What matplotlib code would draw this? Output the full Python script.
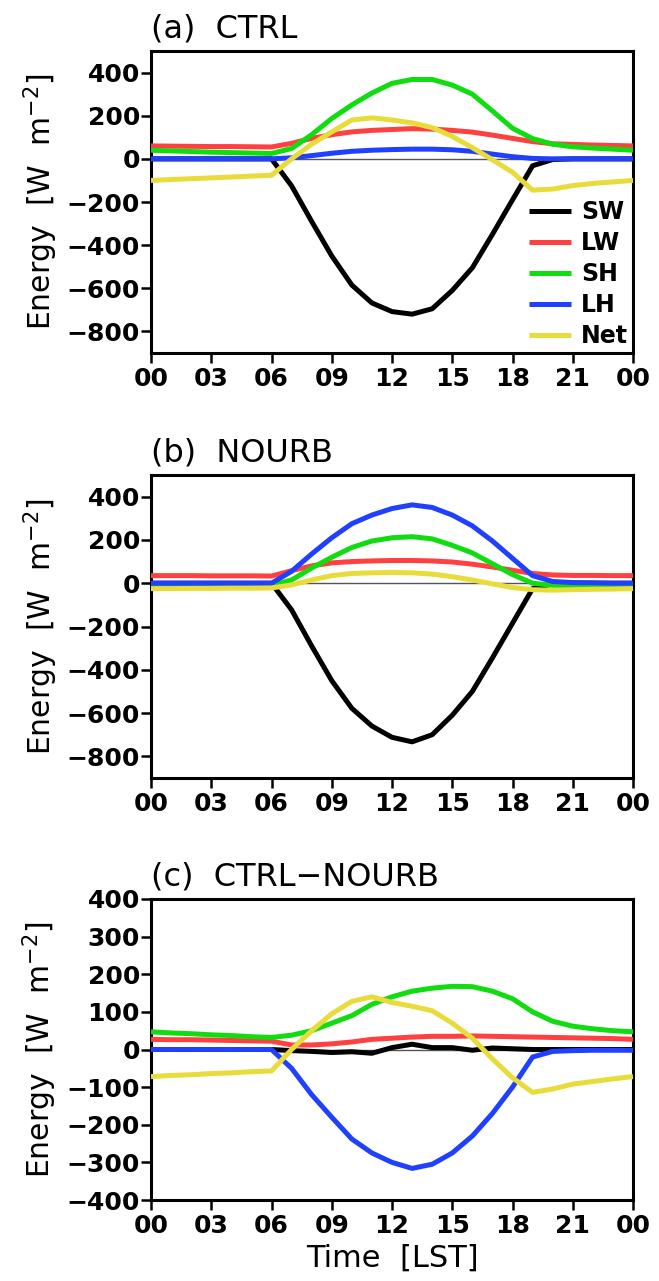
import matplotlib
matplotlib.use("Agg")
import matplotlib.pyplot as plt
import numpy as np

hours = list(range(25))
xtick_pos = [0, 3, 6, 9, 12, 15, 18, 21, 24]
xtick_labels = ["00", "03", "06", "09", "12", "15", "18", "21", "00"]
series_names = ["SW", "LW", "SH", "LH", "Net"]
colors = ["#000000", "#ff4040", "#10dd10", "#2040ff", "#e8dc3a"]

# (a) CTRL
a_SW = [0, 0, 0, 0, 0, 0, 0, -125, -290, -450, -585, -668, -708, -720, -695, -610, -505, -350, -190, -32, -3, 0, 0, 0, 0]
a_LW = [60, 59, 58, 57, 57, 56, 55, 72, 95, 112, 125, 132, 136, 140, 138, 132, 124, 110, 95, 80, 70, 67, 64, 62, 60]
a_SH = [40, 37, 34, 31, 29, 27, 25, 48, 112, 187, 250, 305, 350, 368, 368, 342, 300, 222, 142, 94, 68, 56, 50, 45, 40]
a_LH = [0, 0, 0, 0, 0, 0, 0, 5, 15, 26, 35, 40, 43, 45, 45, 42, 35, 22, 10, 2, 0, 0, 0, 0, 0]
a_Net = [-100, -96, -92, -88, -84, -80, -76, -0, 68, 125, 180, 190, 180, 167, 145, 104, 52, -4, -62, -145, -140, -124, -114, -107, -100]

# (b) NOURB
b_SW = [0, 0, 0, 0, 0, 0, 0, -123, -290, -450, -578, -660, -712, -733, -700, -610, -500, -345, -185, -25, -3, 0, 0, 0, 0]
b_LW = [35, 35, 35, 34, 34, 34, 33, 58, 80, 94, 100, 103, 105, 105, 103, 98, 88, 75, 60, 45, 38, 36, 36, 35, 35]
b_SH = [-11, -11, -11, -11, -11, -11, -10, 15, 70, 120, 165, 195, 210, 215, 205, 175, 140, 90, 40, 0, -10, -11, -12, -12, -12]
b_LH = [0, 0, 0, 0, 0, 0, 0, 55, 135, 210, 275, 315, 345, 362, 350, 315, 265, 195, 115, 35, 8, 3, 2, 0, 0]
b_Net = [-25, -25, -24, -24, -23, -23, -22, -8, 15, 35, 45, 48, 50, 48, 42, 30, 15, -3, -20, -30, -32, -30, -28, -27, -25]

# (c) CTRL-NOURB
c_SW = [0, 0, 0, 0, 0, 0, 0, -3, -5, -8, -6, -10, 5, 14, 5, 5, -2, 4, 2, 0, 0, 0, 0, 0, 0]
c_LW = [27, 26, 26, 25, 24, 23, 22, 12, 12, 15, 20, 27, 30, 33, 35, 35, 36, 35, 34, 33, 32, 31, 30, 29, 27]
c_SH = [47, 44, 42, 39, 37, 34, 32, 38, 50, 70, 90, 120, 140, 155, 163, 168, 167, 155, 135, 100, 75, 62, 55, 50, 47]
c_LH = [0, 0, 0, 0, 0, 0, 0, -50, -120, -180, -238, -275, -300, -316, -305, -275, -230, -170, -100, -20, -5, -3, -2, -2, -2]
c_Net = [-72, -69, -67, -64, -62, -59, -57, 0, 50, 95, 128, 140, 125, 115, 103, 70, 30, -25, -75, -114, -105, -92, -85, -78, -72]

panels = [
    ("(a)  CTRL", [a_SW, a_LW, a_SH, a_LH, a_Net], (-900, 500), list(range(-800, 401, 200))),
    ("(b)  NOURB", [b_SW, b_LW, b_SH, b_LH, b_Net], (-900, 500), list(range(-800, 401, 200))),
    ("(c)  CTRL\u2212NOURB", [c_SW, c_LW, c_SH, c_LH, c_Net], (-400, 400), list(range(-400, 401, 100))),
]

fig = plt.figure(figsize=(6.59, 12.81), dpi=100)
W, H = 659.0, 1281.0
boxes = [(151, 51, 633, 353), (151, 475, 633, 778), (151, 899, 633, 1200)]

for i, ((title, data, ylim, yticks), (l, t, r, b)) in enumerate(zip(panels, boxes)):
    ax = fig.add_axes([l / W, 1 - b / H, (r - l) / W, (b - t) / H])
    ax.axhline(0, color="#555555", lw=1.0, zorder=1)
    for name, vals, col in zip(series_names, data, colors):
        ax.plot(hours, vals, color=col, lw=3.6, label=name, zorder=3,
                solid_joinstyle="round", solid_capstyle="butt")
    ax.set_xlim(0, 24)
    ax.set_ylim(*ylim)
    ax.set_xticks(xtick_pos)
    ax.set_xticklabels(xtick_labels)
    ax.set_yticks(yticks)
    ax.set_yticklabels([str(v).replace("-", "\u2212") for v in yticks])
    for s in ["top", "right", "bottom", "left"]:
        ax.spines[s].set_linewidth(2.2)
    ax.tick_params(axis="both", direction="out", length=7, width=1.8,
                   labelsize=18, top=False, right=False)
    ax.tick_params(axis="y", pad=1)
    ax.tick_params(axis="x", pad=3)
    for lab in ax.get_xticklabels() + ax.get_yticklabels():
        lab.set_fontweight("bold")
    ax.set_ylabel("Energy  [W  m$^{-2}$]", fontsize=21.5, labelpad=5)
    ax.text(0.0, 1.02, title, transform=ax.transAxes, fontsize=23,
            ha="left", va="bottom")
    if i == 0:
        leg = ax.legend(loc="lower right", bbox_to_anchor=(1.0, 0.0),
                        frameon=False, borderaxespad=0.1, borderpad=0.1,
                        handlelength=1.75, handletextpad=0.45,
                        labelspacing=0.3, prop={"size": 17, "weight": "bold"})
    if i == 2:
        ax.set_xlabel("Time  [LST]", fontsize=22, labelpad=4)

fig.savefig("out.png", dpi=100)
